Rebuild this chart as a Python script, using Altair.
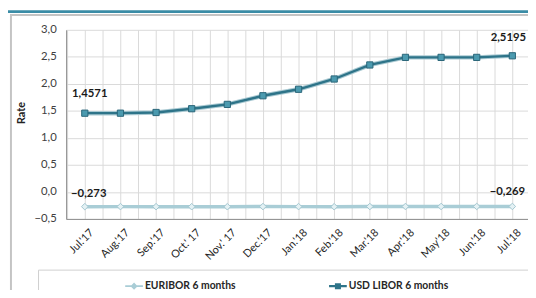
import json
import altair as alt
import pandas as pd

months = ["Jul.'17", "Aug.'17", "Sep.'17", "Oct.' 17", "Nov.' 17", "Dec.'17", "Jan.'18",
          "Feb.'18", "Mar.'18", "Apr.'18", "May'18", "Jun.'18", "Jul.'18"]
usd_libor = [1.4571, 1.4571, 1.47, 1.54, 1.62, 1.78, 1.90, 2.09, 2.35, 2.49, 2.49, 2.49, 2.5195]
euribor = [-0.273, -0.272, -0.273, -0.274, -0.274, -0.271, -0.272, -0.274, -0.271, -0.270, -0.270, -0.269, -0.269]
series_names = ["EURIBOR 6 months", "USD LIBOR 6 months"]
y_ticks = [-0.5, 0.0, 0.5, 1.0, 1.5, 2.0, 2.5, 3.0]

rows = []
for i, m in enumerate(months):
    rows.append({"idx": i, "month": m, "series": series_names[0], "rate": euribor[i]})
    rows.append({"idx": i, "month": m, "series": series_names[1], "rate": usd_libor[i]})
df = pd.DataFrame(rows)

W, H = 469, 192
FONT = "Lato"
EUR_LINE = "#A9CDD6"
USD_LINE = "#2E7489"

x_grid = [k / 2 for k in range(-1, 2 * len(months) - 1)]
x_label_expr = f"datum.value % 1 === 0 ? {json.dumps(months)}[datum.value] : ''"

x_enc = alt.X("idx:Q",
              scale=alt.Scale(domain=[-0.525, 12.44], nice=False, zero=False),
              axis=alt.Axis(values=x_grid, tickCount=len(x_grid) + 2, labelExpr=x_label_expr,
                            labelAngle=-45, labelAlign="right", labelBaseline="middle",
                            labelOffset=7, labelPadding=12, labelOverlap=False, labelFlush=False,
                            labelFont=FONT, labelFontSize=11, labelColor="#262626",
                            ticks=False, title=None, grid=True))
y_enc = alt.Y("rate:Q",
              scale=alt.Scale(domain=[-0.5, 3.0], nice=False, zero=False),
              axis=alt.Axis(values=y_ticks, tickCount=len(y_ticks) + 2, labelOverlap=False,
                            labelExpr="replace(format(datum.value, '.1f'), '.', ',')",
                            labelFont=FONT, labelFontSize=11.5, labelColor="#404040",
                            labelPadding=10, ticks=False, title="Rate",
                            titleFont=FONT, titleFontSize=11, titleFontWeight="bold",
                            titleColor="#222222", titleX=-40, titleY=84))

usd_sym = "M-1,-0.13L1,-0.13L1,0.13L-1,0.13Z M-0.34,-0.34L0.34,-0.34L0.34,0.34L-0.34,0.34Z"
eur_sym = "M-1,-0.1L1,-0.1L1,0.1L-1,0.1Z M0,-0.4L0.4,0L0,0.4L-0.4,0Z"

legend = alt.Legend(
    orient="none", legendX=60, legendY=251, direction="horizontal",
    title=None, symbolSize=324, labelFont=FONT, labelFontSize=10.5,
    labelFontWeight="bold", labelColor="#262626", labelOffset=2,
    columnPadding=94, padding=0, symbolOpacity=1, symbolStrokeWidth=0)

one = pd.DataFrame({"k": [0]})
frame = alt.Chart(one).mark_rect(fill="white", fillOpacity=0, stroke="#C4C4C4", strokeWidth=2).encode(
    x=alt.value(-56), x2=alt.value(W + 30), y=alt.value(-15), y2=alt.value(H + 120))
topbar = alt.Chart(one).mark_rect(fill="#3A8CA6").encode(
    x=alt.value(-70), x2=alt.value(W + 30), y=alt.value(-20), y2=alt.value(-17))
legend_box = alt.Chart(one).mark_rect(fill="white", stroke="#CFCFCF", strokeWidth=1).encode(
    x=alt.value(-28), x2=alt.value(W + 30), y=alt.value(244), y2=alt.value(H + 120))

base = alt.Chart(df)
legend_src = base.mark_point(filled=True, opacity=0).encode(
    x=x_enc, y=y_enc,
    color=alt.Color("series:N", scale=alt.Scale(domain=series_names, range=[EUR_LINE, USD_LINE]),
                    legend=legend),
    shape=alt.Shape("series:N", scale=alt.Scale(domain=series_names, range=[eur_sym, usd_sym]),
                    legend=legend))
eur_line = base.transform_filter(f"datum.series === '{series_names[0]}'").mark_line(
    strokeWidth=3.5, color=EUR_LINE).encode(x="idx:Q", y="rate:Q")
eur_pts = base.transform_filter(f"datum.series === '{series_names[0]}'").mark_point(
    shape="diamond", filled=True, size=45, fill="#E4F1F4", stroke="#A3C6CF", strokeWidth=1,
    opacity=1).encode(x="idx:Q", y="rate:Q")
usd_shadow = base.transform_filter(f"datum.series === '{series_names[1]}'").mark_line(
    strokeWidth=4.5, color="#A9C9D2").encode(x="idx:Q", y="rate:Q")
usd_line = base.transform_filter(f"datum.series === '{series_names[1]}'").mark_line(
    strokeWidth=2.4, color=USD_LINE).encode(x="idx:Q", y="rate:Q")
usd_pts = base.transform_filter(f"datum.series === '{series_names[1]}'").mark_point(
    shape="square", filled=True, size=40, fill="#4B9AAF", stroke="#2A6679", strokeWidth=1,
    opacity=1).encode(x="idx:Q", y="rate:Q")

lab_base = base.transform_calculate(
    lab=f"replace(format(datum.rate, datum.series === '{series_names[0]}' ? '.3f' : '.4f'), '.', ',')")
text_style = dict(font=FONT, fontSize=11.5, fontWeight="bold", color="#1A1A1A")
usd_first = lab_base.transform_filter(f"datum.series === '{series_names[1]}' && datum.idx === 0").mark_text(
    dx=5, dy=-19, **text_style).encode(x="idx:Q", y="rate:Q", text="lab:N")
usd_last = lab_base.transform_filter(f"datum.series === '{series_names[1]}' && datum.idx === 12").mark_text(
    dx=-4, dy=-18, **text_style).encode(x="idx:Q", y="rate:Q", text="lab:N")
eur_first = lab_base.transform_filter(f"datum.series === '{series_names[0]}' && datum.idx === 0").mark_text(
    dx=4, dy=-13, **text_style).encode(x="idx:Q", y="rate:Q", text="lab:N")
eur_last = lab_base.transform_filter(f"datum.series === '{series_names[0]}' && datum.idx === 12").mark_text(
    dx=-5, dy=-15, **text_style).encode(x="idx:Q", y="rate:Q", text="lab:N")

chart = alt.layer(
    frame, topbar, legend_box, legend_src, eur_line, usd_shadow, usd_line, eur_pts, usd_pts,
    usd_first, usd_last, eur_first, eur_last
).properties(
    width=W, height=H,
    autosize=alt.AutoSizeParams(type="none"),
    padding={"left": 59, "top": 20, "right": 0, "bottom": 70},
    background="white",
).configure_view(strokeWidth=0).configure_axis(
    gridColor="#D9D9D9", gridWidth=1, domainColor="#8C8C8C", domainWidth=1
)

chart.save("out.html", embed_options={"renderer": "svg", "actions": False})
